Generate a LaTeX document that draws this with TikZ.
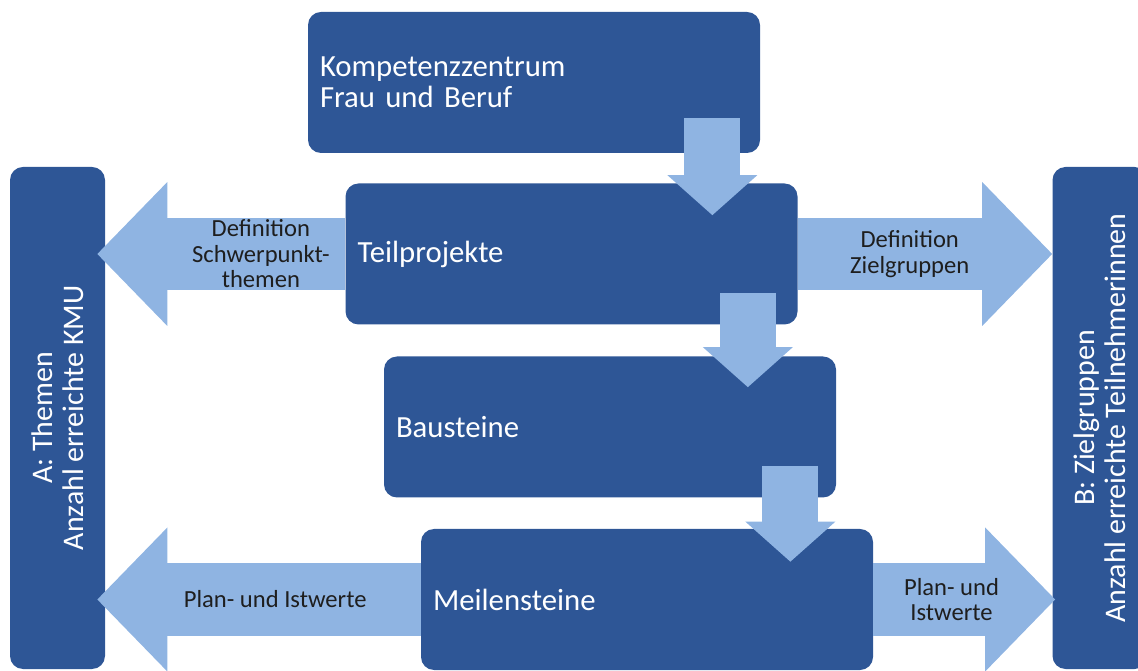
\documentclass[tikz,border=0pt]{standalone}
\usepackage{fontspec}
\setmainfont{Carlito}
\usetikzlibrary{arrows.meta,calc}

\definecolor{boxblue}{RGB}{46,86,150}
\definecolor{arrowblue}{RGB}{143,180,226}
\definecolor{labelgray}{RGB}{30,30,30}

\begin{document}
\begin{tikzpicture}[%
    box/.style={fill=boxblue, rounded corners=0.26cm, text=white,%
      minimum height=2.82cm, text width=8.56cm, inner xsep=0.24cm,%
      align=left, font=\fontsize{17.5}{17.5}\selectfont},%
    sidebox/.style={fill=boxblue, rounded corners=0.26cm, text=white,%
      rotate=90, minimum width=10.04cm, minimum height=1.9cm,%
      align=center, font=\fontsize{17}{17.6}\selectfont},%
    sidearrow/.style={draw=arrowblue, line width=1.44cm,%
      -{Triangle[length=1.4cm,width=2.88cm,line width=0pt]}},%
    downarrow/.style={draw=arrowblue, line width=1.12cm,%
      -{Triangle[length=0.8cm,width=1.8cm,line width=0pt]}},%
    arrowlabel/.style={text=labelgray, align=center,%
      font=\fontsize{14}{14.5}\selectfont},%
  ]%
  \useasboundingbox (0,0) rectangle (22.76,13.4);%
  \clip (0,0) rectangle (22.76,13.4);%
  % Seitenbalken
  \node[sidebox] (themen) at (1.15,5.04) {A: Themen\\Anzahl erreichte KMU};%
  \node[sidebox] (zielgr) at (22.0,5.04) {B: Zielgruppen\\Anzahl erreichte Teilnehmerinnen};%
  % Stufen
  \node[box] (komp) at (10.68,11.75) {Kompetenzzentrum\\Frau und Beruf};%
  \node[box] (teil) at (11.43,8.32) {Teilprojekte};%
  \node[box] (baus) at (12.2,4.86) {Bausteine};%
  \node[box] (meil) at (12.94,1.41) {Meilensteine};%
  % seitliche Pfeile
  \draw[sidearrow] (teil.west) -- ($(themen.south |- teil.west)+(-0.16,0)$)%
    node[arrowlabel, pos=0.34] {Definition\\Schwerpunkt-\\themen};%
  \draw[sidearrow] (teil.east) -- (zielgr.north |- teil.east)%
    node[arrowlabel, pos=0.44] {Definition\\Zielgruppen};%
  \draw[sidearrow] (meil.west) -- ($(themen.south |- meil.west)+(-0.16,0)$)%
    node[arrowlabel, pos=0.45] {Plan- und Istwerte};%
  \draw[sidearrow] (meil.east) -- ($(zielgr.north |- meil.east)+(0.06,0)$)%
    node[arrowlabel, pos=0.43] {Plan- und\\Istwerte};%
  % Pfeile nach unten
  \coordinate (d1) at ($(komp.south east)+(-0.96,0.7)$);%
  \coordinate (d2) at ($(teil.south east)+(-1.0,0.64)$);%
  \coordinate (d3) at ($(baus.south east)+(-0.92,0.64)$);%
  \draw[downarrow] (d1) -- ($(d1 |- teil.north)+(0,-0.64)$);%
  \draw[downarrow] (d2) -- ($(d2 |- baus.north)+(0,-0.62)$);%
  \draw[downarrow] (d3) -- ($(d3 |- meil.north)+(0,-0.66)$);%
\end{tikzpicture}
\end{document}
